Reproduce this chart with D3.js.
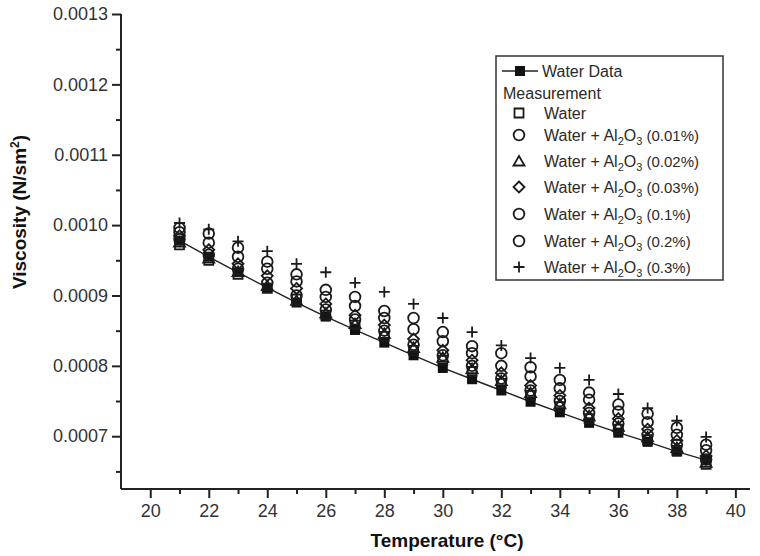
<!DOCTYPE html>
<html>
<head>
<meta charset="utf-8">
<script src="https://cdn.jsdelivr.net/npm/d3@7"></script>
<style>
  body { margin: 0; background: #fff; }
  text { font-family: "Liberation Sans", Arial, sans-serif; }
</style>
</head>
<body>
<div id="chart"></div>
<script>
// temperatures (°C)
var temps = [21, 22, 23, 24, 25, 26, 27, 28, 29, 30, 31, 32, 33, 34, 35, 36, 37, 38, 39];

// water reference data (line)
var waterData = [0.000978, 0.000955, 0.000933, 0.000911, 0.000890, 0.000870, 0.000851, 0.000833, 0.000815, 0.000797,
                 0.000781, 0.000765, 0.000749, 0.000734, 0.000719, 0.000705, 0.000692, 0.000678, 0.000666];

// measurements
var measWater = [0.000972, 0.000950, 0.000930, 0.000910, 0.000895, 0.000872, 0.000858, 0.000842, 0.000822, 0.000808,
                 0.000792, 0.000775, 0.000758, 0.000742, 0.000725, 0.000710, 0.000695, 0.000680, 0.000660];
var meas001 = [0.000980, 0.000958, 0.000938, 0.000918, 0.000900, 0.000880, 0.000866, 0.000850, 0.000830, 0.000815,
               0.000800, 0.000782, 0.000765, 0.000750, 0.000733, 0.000718, 0.000702, 0.000688, 0.000667];
var meas002 = [0.000976, 0.000953, 0.000934, 0.000914, 0.000893, 0.000875, 0.000860, 0.000846, 0.000826, 0.000812,
               0.000796, 0.000779, 0.000762, 0.000746, 0.000729, 0.000714, 0.000699, 0.000684, 0.000663];
var meas003 = [0.000985, 0.000965, 0.000945, 0.000928, 0.000910, 0.000888, 0.000872, 0.000858, 0.000838, 0.000822,
               0.000808, 0.000790, 0.000772, 0.000758, 0.000740, 0.000725, 0.000710, 0.000694, 0.000672];
var meas01 = [0.000990, 0.000975, 0.000955, 0.000938, 0.000920, 0.000898, 0.000885, 0.000868, 0.000852, 0.000835,
              0.000818, 0.000800, 0.000785, 0.000768, 0.000752, 0.000735, 0.000720, 0.000702, 0.000680];
var meas02 = [0.000996, 0.000988, 0.000968, 0.000948, 0.000930, 0.000908, 0.000898, 0.000878, 0.000868, 0.000848,
              0.000828, 0.000818, 0.000798, 0.000780, 0.000762, 0.000745, 0.000732, 0.000712, 0.000688];
var meas03 = [0.001003, 0.000994, 0.000977, 0.000963, 0.000945, 0.000933, 0.000918, 0.000905, 0.000888, 0.000868,
              0.000848, 0.000829, 0.000811, 0.000797, 0.000780, 0.000760, 0.000740, 0.000722, 0.000699];

var measSeries = [measWater, meas001, meas002, meas003, meas01, meas02, meas03];
var measNames = ["Water", "(0.01%)", "(0.02%)", "(0.03%)", "(0.1%)", "(0.2%)", "(0.3%)"];
var measShapes = ["square", "circle", "triangle", "diamond", "circle", "circle", "plus"];

var xTicks = [20, 22, 24, 26, 28, 30, 32, 34, 36, 38, 40];
var yTicks = [0.0007, 0.0008, 0.0009, 0.0010, 0.0011, 0.0012, 0.0013];

// set the dimensions and margins of the graph
var margin = {top: 14, right: 10, bottom: 67, left: 121},
    width = 760 - margin.left - margin.right,
    height = 556 - margin.top - margin.bottom;

var svg = d3.select("#chart")
  .append("svg")
    .attr("width", 760)
    .attr("height", 556)
  .append("g")
    .attr("transform", "translate(" + margin.left + "," + margin.top + ")");

var x = d3.scaleLinear().domain([19, 40.5]).range([0, 629]);
var y = d3.scaleLinear().domain([0.000625, 0.0013]).range([height, 0]);

var ink = "#222";

// shape paths
function shapePath(s) {
  if (s == "square") return "M-4.5,-4.5H4.5V4.5H-4.5Z";
  if (s == "circle") return d3.symbol(d3.symbolCircle, 90)();
  if (s == "triangle") return "M0,-5L5.5,4.5L-5.5,4.5Z";
  if (s == "diamond") return "M0,-5.5L5.5,0L0,5.5L-5.5,0Z";
  if (s == "plus") return "M-5.5,0H5.5M0,-5.5V5.5";
}

// X axis
var xMinor = temps.filter(function(t) { return t % 2 == 1; });
svg.append("g")
  .attr("transform", "translate(0," + height + ")")
  .call(d3.axisBottom(x).tickValues(xMinor).tickSize(5).tickFormat(""))
  .call(function(g) { g.select(".domain").remove(); g.selectAll("line").attr("stroke", ink).attr("stroke-width", 2); });
svg.append("g")
  .attr("transform", "translate(0," + height + ")")
  .call(d3.axisBottom(x).tickValues(xTicks).tickSize(9).tickPadding(6).tickFormat(d3.format("d")))
  .call(function(g) {
    g.select(".domain").attr("stroke", ink).attr("stroke-width", 2).attr("d", "M0,0H629");
    g.selectAll("line").attr("stroke", ink).attr("stroke-width", 2);
    g.selectAll("text").attr("fill", "#333").style("font-size", "18px");
  });

// Y axis
var yMinor = yTicks.map(function(v) { return v - 0.00005; });
svg.append("g")
  .call(d3.axisLeft(y).tickValues(yMinor).tickSize(5).tickFormat(""))
  .call(function(g) { g.select(".domain").remove(); g.selectAll("line").attr("stroke", ink).attr("stroke-width", 2); });
svg.append("g")
  .call(d3.axisLeft(y).tickValues(yTicks).tickSize(9).tickPadding(4).tickFormat(d3.format(".4f")))
  .call(function(g) {
    g.select(".domain").attr("stroke", ink).attr("stroke-width", 2).attr("d", "M0," + height + "V0");
    g.selectAll("line").attr("stroke", ink).attr("stroke-width", 2);
    g.selectAll("text").attr("fill", "#333").style("font-size", "18px");
  });

// water data line
var waterPts = temps.map(function(t, i) { return [t, waterData[i]]; });
svg.append("path")
  .datum(waterPts)
  .attr("fill", "none")
  .attr("stroke", ink)
  .attr("stroke-width", 1.4)
  .attr("d", d3.line().x(function(d) { return x(d[0]); }).y(function(d) { return y(d[1]); }));
svg.selectAll(".wsq")
  .data(waterPts)
  .enter()
  .append("rect")
    .attr("x", function(d) { return x(d[0]) - 5; })
    .attr("y", function(d) { return y(d[1]) - 5; })
    .attr("width", 10)
    .attr("height", 10)
    .attr("fill", "#111");

// measurement markers
measSeries.forEach(function(vals, k) {
  svg.selectAll(".m" + k)
    .data(vals)
    .enter()
    .append("path")
      .attr("transform", function(d, i) { return "translate(" + x(temps[i]) + "," + y(d) + ")"; })
      .attr("d", shapePath(measShapes[k]))
      .attr("fill", "none")
      .attr("stroke", "#1a1a1a")
      .attr("stroke-width", 1.8);
});

// axis titles
svg.append("text")
  .attr("x", 326)
  .attr("y", 533)
  .attr("text-anchor", "middle")
  .style("font-size", "19px")
  .style("font-weight", "bold")
  .attr("fill", "#111")
  .text("Temperature (°C)");

var yt = svg.append("text")
  .attr("transform", "translate(-95," + 198 + ")rotate(-90)")
  .attr("text-anchor", "middle")
  .style("font-size", "19px")
  .style("font-weight", "bold")
  .attr("fill", "#111");
yt.append("tspan").text("Viscosity (N/sm");
yt.append("tspan").attr("dy", -7).style("font-size", "12px").text("2");
yt.append("tspan").attr("dy", 7).text(")");

// legend
var leg = svg.append("g").attr("transform", "translate(" + (496 - margin.left) + "," + (56 - margin.top) + ")");
leg.append("rect")
  .attr("width", 227)
  .attr("height", 224)
  .attr("fill", "#fff")
  .attr("stroke", "#333")
  .attr("stroke-width", 1.5);
leg.append("line").attr("x1", 6).attr("x2", 42).attr("y1", 15).attr("y2", 15).attr("stroke", ink).attr("stroke-width", 1.4);
leg.append("rect").attr("x", 19).attr("y", 10).attr("width", 10).attr("height", 10).attr("fill", "#111");
leg.append("text").attr("x", 46).attr("y", 21).style("font-size", "16px").attr("fill", "#2a2a2a").text("Water Data");
leg.append("text").attr("x", 7).attr("y", 43).style("font-size", "16px").attr("fill", "#2a2a2a").text("Measurement");

var rowY = [57, 79, 105, 131, 158, 185, 211];
measNames.forEach(function(name, k) {
  leg.append("path")
    .attr("transform", "translate(23," + rowY[k] + ")")
    .attr("d", shapePath(measShapes[k]))
    .attr("fill", "none")
    .attr("stroke", "#1a1a1a")
    .attr("stroke-width", 1.8);
  var t = leg.append("text")
    .attr("x", 48)
    .attr("y", rowY[k] + 6)
    .style("font-size", "16px")
    .attr("fill", "#2a2a2a");
  if (k == 0) {
    t.text(name);
  } else {
    t.append("tspan").text("Water + Al");
    t.append("tspan").attr("dy", 4).style("font-size", "11px").text("2");
    t.append("tspan").attr("dy", -4).text("O");
    t.append("tspan").attr("dy", 4).style("font-size", "11px").text("3");
    t.append("tspan").attr("dy", -4).style("font-size", "15px").text(" " + name);
  }
});
</script>
</body>
</html>
